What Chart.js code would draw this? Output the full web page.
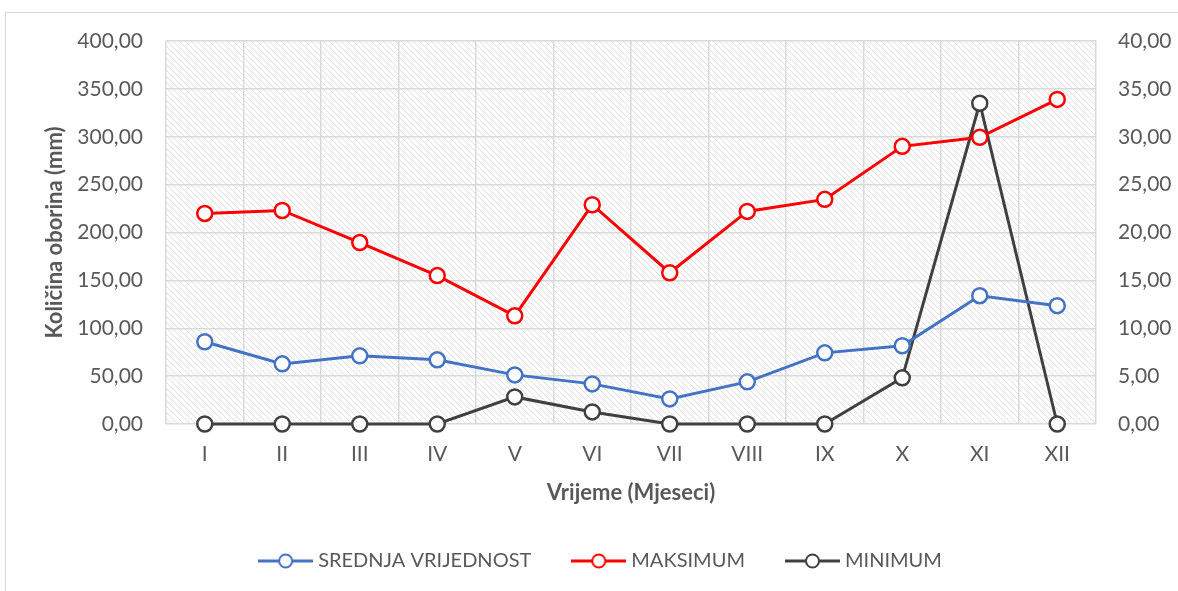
<!DOCTYPE html>
<html>
<head>
<meta charset="utf-8">
<script src="https://cdn.jsdelivr.net/npm/chart.js@4"></script>
<style>
  html, body { margin: 0; padding: 0; background: #fff; overflow: hidden; }
  #frame { position: absolute; left: 5px; top: 12px; width: 1200px; height: 600px; border: 1px solid #d9d9d9; box-sizing: border-box; }
  #wrap { position: absolute; left: 0; top: 0; width: 1178px; height: 591px; }
</style>
</head>
<body>
<div id="frame"></div>
<div id="wrap"><canvas id="chart"></canvas></div>
<script>
// podaci (očitani sa slike)
const months = ['I', 'II', 'III', 'IV', 'V', 'VI', 'VII', 'VIII', 'IX', 'X', 'XI', 'XII'];
const srednja = [85.9, 62.8, 71.2, 67.0, 51.3, 41.9, 26.2, 44.0, 74.3, 81.7, 134.0, 123.6];
const maksimum = [219.9, 223.0, 189.5, 155.0, 113.0, 229.0, 158.0, 222.0, 234.6, 290.0, 299.5, 339.0];
const minimum = [0, 0, 0, 0, 2.83, 1.26, 0, 0, 0, 4.82, 33.5, 0];

const leftTicks = { min: 0, max: 400, step: 50 };
const rightTicks = { min: 0, max: 40, step: 5 };

const FONT = 'Lato, "Open Sans", sans-serif';
const TEXT = '#595959';
const GRID = '#d9d9d9';

const fmt = v => v.toFixed(2).replace('.', ',');

// ikona za legendu: linija + kružić
function legendIcon(color) {
    const c = document.createElement('canvas');
    c.width = 55; c.height = 18;
    const g = c.getContext('2d');
    g.strokeStyle = color;
    g.lineWidth = 3;
    g.beginPath(); g.moveTo(0, 9); g.lineTo(55, 9); g.stroke();
    g.fillStyle = '#fff';
    g.lineWidth = 2;
    g.beginPath(); g.arc(27.5, 9, 6.5, 0, Math.PI * 2); g.fill(); g.stroke();
    return c;
}

// šrafura pozadine
const hatchBg = {
    id: 'hatchBg',
    beforeDraw(chart) {
        const { ctx, chartArea: a } = chart;
        const p = document.createElement('canvas');
        p.width = 6; p.height = 6;
        const g = p.getContext('2d');
        g.fillStyle = '#fff';
        g.fillRect(0, 0, 6, 6);
        g.strokeStyle = '#e0e0e0';
        g.lineWidth = 1;
        g.beginPath();
        g.moveTo(-1, -1); g.lineTo(7, 7);
        g.moveTo(-1, 5); g.lineTo(1, 7);
        g.moveTo(5, -1); g.lineTo(7, 1);
        g.stroke();
        ctx.save();
        ctx.fillStyle = ctx.createPattern(p, 'repeat');
        ctx.fillRect(a.left, a.top, a.right - a.left, a.bottom - a.top);
        ctx.restore();
    }
};

const series = [
    { label: 'SREDNJA VRIJEDNOST', data: srednja, color: '#4472C4', axis: 'y' },
    { label: 'MAKSIMUM', data: maksimum, color: '#FF0000', axis: 'y' },
    { label: 'MINIMUM', data: minimum, color: '#404040', axis: 'y2' }
];

new Chart(document.getElementById('chart'), {
    type: 'line',
    data: {
        labels: months,
        datasets: series.map(s => ({
            label: s.label,
            data: s.data,
            yAxisID: s.axis,
            borderColor: s.color,
            backgroundColor: '#fff',
            borderWidth: 3,
            pointRadius: 7.5,
            pointBorderWidth: 2.5,
            pointBackgroundColor: '#fff',
            pointBorderColor: s.color,
            tension: 0,
            clip: false
        }))
    },
    options: {
        responsive: true,
        maintainAspectRatio: false,
        animation: false,
        layout: { padding: { top: 41, left: 27, right: 0, bottom: 10 } },
        plugins: {
            tooltip: { enabled: false },
            legend: {
                position: 'bottom',
                labels: {
                    font: { family: FONT, size: 20 },
                    color: TEXT,
                    usePointStyle: true,
                    pointStyleWidth: 45,
                    padding: 45,
                    generateLabels(chart) {
                        const items = Chart.defaults.plugins.legend.labels.generateLabels(chart);
                        items.forEach(it => { it.pointStyle = legendIcon(series[it.datasetIndex].color); });
                        return items;
                    }
                }
            }
        },
        scales: {
            x: {
                offset: true,
                grid: { offset: true, color: GRID, lineWidth: 1.5, drawTicks: false },
                border: { display: false },
                ticks: { font: { family: FONT, size: 21 }, color: TEXT, padding: 18 },
                title: {
                    display: true,
                    text: 'Vrijeme (Mjeseci)',
                    font: { family: FONT, size: 22, weight: 'bold' },
                    color: TEXT,
                    padding: { top: 0, bottom: 0 }
                },
                afterFit(scale) { scale.height = 82; }
            },
            y: {
                position: 'left',
                min: leftTicks.min,
                max: leftTicks.max,
                grid: { color: GRID, lineWidth: 1.5, drawTicks: false },
                border: { display: false },
                ticks: { stepSize: leftTicks.step, font: { family: FONT, size: 21 }, color: TEXT, padding: 23, callback: fmt },
                title: {
                    display: true,
                    text: 'Količina oborina (mm)',
                    font: { family: FONT, size: 22, weight: 'bold' },
                    color: TEXT,
                    padding: { top: 15, bottom: 0 }
                },
                afterFit(scale) { scale.width = 139; }
            },
            y2: {
                position: 'right',
                min: rightTicks.min,
                max: rightTicks.max,
                grid: { drawOnChartArea: false, drawTicks: false },
                border: { display: false },
                ticks: { stepSize: rightTicks.step, font: { family: FONT, size: 21 }, color: TEXT, padding: 22, callback: fmt },
                afterFit(scale) { scale.width = 82; }
            }
        }
    },
    plugins: [hatchBg]
});
</script>
</body>
</html>
